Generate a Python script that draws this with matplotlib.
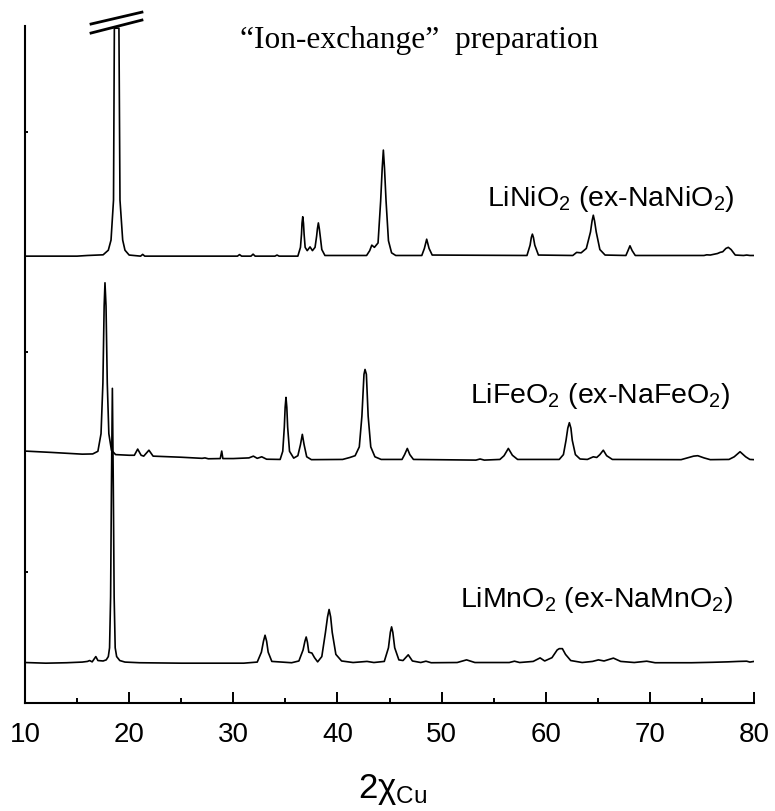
import numpy as np
import matplotlib.pyplot as plt

plt.rcParams['font.family'] = ['Liberation Sans', 'DejaVu Sans']
plt.rcParams['mathtext.fontset'] = 'custom'
plt.rcParams['mathtext.rm'] = 'Liberation Sans'
plt.rcParams['mathtext.it'] = 'Liberation Sans'
plt.rcParams['mathtext.bf'] = 'Liberation Sans:bold'

# XRD traces: 2theta and intensity (a.u.) above each baseline
ni_tt  = [10.0, 15.0, 16.0, 17.5, 18.0, 18.26, 18.5, 18.58, 19.02, 19.12, 19.38, 19.6, 20.0,
          21.1, 21.3, 21.5, 30.4, 30.6, 30.8, 31.7, 31.9, 32.1, 34.0, 34.2, 34.4,
          36.2, 36.45, 36.55, 36.6, 36.67, 36.74, 36.8, 36.9, 37.1, 37.37, 37.6, 37.85, 38.0, 38.08,
          38.17, 38.26, 38.35, 38.5, 38.8,
          42.8, 43.1, 43.3, 43.55, 43.9, 44.15, 44.3, 44.41, 44.52, 44.67, 44.9, 45.2, 45.6,
          48.1, 48.35, 48.57, 48.8, 49.1, 58.2, 58.5, 58.62, 58.72, 58.82, 58.95, 59.3,
          62.6, 62.97, 63.4, 63.9, 64.3, 64.45, 64.57, 64.69, 64.85, 65.2, 65.7,
          67.7, 67.9, 68.09, 68.3, 68.6, 75.2, 75.46, 75.8, 76.5, 76.74, 77.0, 77.3, 77.53, 77.8, 78.2,
          79.0, 79.3, 79.6, 80.0]
ni_int = [0, 0, 3, 6, 27, 73, 255, 1036, 1036, 255, 73, 27, 5,
          0, 8, 0, 0, 7, 0, 0, 9, 0, 0, 5, 0,
          0, 40, 100, 150, 179, 150, 100, 40, 25, 42, 25, 40, 90, 125,
          151, 125, 90, 30, 3,
          3, 25, 50, 40, 60, 250, 400, 482, 400, 250, 70, 15, 3,
          3, 35, 77, 35, 5, 3, 50, 85, 100, 85, 50, 5,
          3, 17, 15, 35, 110, 160, 186, 160, 110, 30, 5,
          3, 25, 47, 25, 3, 3, 6, 5, 12, 17, 20, 35, 40, 30, 5,
          3, 5, 3, 3]

fe_tt  = [10.0, 12.5, 15.5, 16.5, 17.0, 17.3, 17.48, 17.6, 17.68, 17.78, 17.9, 18.05, 18.3, 18.7,
          20.0, 20.5, 20.82, 21.15, 21.4, 21.9, 22.3, 25.0, 27.0, 27.28, 27.6, 28.75, 28.89, 29.0,
          30.0, 31.5, 31.93, 32.3, 32.73, 33.2, 34.5, 34.75, 34.9, 34.98, 35.06, 35.14, 35.22, 35.4, 35.8,
          36.2, 36.45, 36.63, 36.8, 37.05, 37.5, 40.5, 41.2, 41.7, 42.1, 42.35, 42.55, 42.65, 42.78,
          42.95, 43.2, 43.6, 44.2, 46.2, 46.45, 46.71, 46.95, 47.3, 53.3, 53.7, 54.1,
          55.6, 56.0, 56.41, 56.8, 57.3, 61.3, 61.7, 61.95, 62.12, 62.27, 62.42, 62.55, 62.85, 63.3,
          64.0, 64.57, 64.9, 65.2, 65.53, 65.85, 66.4, 73.0, 73.6, 74.2, 74.6, 75.2, 75.8,
          77.6, 78.1, 78.66, 79.2, 79.6, 80.0]
fe_int = [41, 35, 27, 28, 40, 120, 350, 700, 806, 700, 350, 120, 45, 25,
          22, 22, 50, 22, 18, 45, 18, 13, 8, 10, 6, 7, 41, 7,
          7, 10, 18, 8, 15, 4, 3, 40, 150, 240, 285, 240, 150, 40, 9,
          20, 70, 117, 70, 15, 2, 3, 12, 20, 60, 200, 390, 412, 390,
          200, 60, 15, 3, 3, 25, 53, 25, 3, 0, 5, 0,
          3, 20, 53, 22, 3, 3, 25, 90, 145, 170, 145, 90, 25, 5,
          3, 15, 12, 25, 45, 20, 3, 2, 10, 18, 20, 10, 2,
          3, 15, 38, 15, 3, 2]

mn_tt  = [10.0, 12.0, 14.0, 15.5, 16.0, 16.2, 16.45, 16.8, 17.0, 17.5, 17.8, 18.0, 18.12, 18.22,
          18.3, 18.39, 18.48, 18.56, 18.66, 18.8, 19.1, 19.6, 21.0, 25.0, 31.0, 32.3, 32.7, 32.9, 33.05,
          33.2, 33.35, 33.7, 35.6, 36.3, 36.7, 36.88, 37.0, 37.12, 37.25, 37.55, 37.8, 38.1, 38.5, 38.85,
          39.05, 39.2, 39.35, 39.5,
          39.85, 40.4, 41.5, 42.84, 43.5, 44.5, 44.9, 45.08, 45.2, 45.32, 45.5, 45.9, 46.3, 46.8, 47.2, 48.0,
          48.5, 49.0, 51.5, 52.4, 53.2, 56.5, 57.0, 57.5, 58.8, 59.46, 59.9, 60.6, 61.1, 61.3,
          61.6, 61.9, 62.4, 63.5, 64.5, 65.06, 65.6, 66.5, 67.2, 68.5, 69.7, 70.5, 72.0, 74.0,
          76.0, 77.5, 78.5, 79.3, 79.6, 80.0]
mn_int = [3, 0, 2, 5, 8, 12, 6, 30, 12, 10, 15, 30, 70, 300,
          800, 1249, 800, 300, 70, 30, 12, 5, 2, 0, 0, 5, 50, 100, 127,
          100, 50, 8, 2, 10, 60, 100, 119, 95, 50, 46, 25, 6, 30, 140,
          210, 244, 210, 140,
          40, 10, 3, 8, 3, 8, 70, 140, 165, 140, 70, 15, 12, 38, 10, 3,
          9, 2, 3, 15, 3, 3, 9, 3, 8, 24, 10, 25, 60, 66,
          66, 40, 12, 3, 8, 15, 10, 23, 8, 3, 9, 2, 2, 2,
          4, 6, 8, 9, 5, 8]

labels = ['LiNiO$_2$ (ex-NaNiO$_2$)', 'LiFeO$_2$ (ex-NaFeO$_2$)', 'LiMnO$_2$ (ex-NaMnO$_2$)']

W, H = 775, 811
fig = plt.figure(figsize=(W/100, H/100), dpi=100)
ax = fig.add_axes([25/W, 1-703/H, (754-25)/W, (703-26)/H])

ax.plot(ni_tt, np.array(ni_int)+1436, '-k', lw=1.2)
ax.plot(fe_tt, np.array(fe_int)+509, '-k', lw=1.2)
ax.plot(mn_tt, np.array(mn_int)-414, '-k', lw=1.2)

# axis-break marks on the clipped peak
ax.plot([16.34, 21.23], [2491, 2545], '-k', lw=2, clip_on=False)
ax.plot([16.34, 21.23], [2450, 2509], '-k', lw=2, clip_on=False)

ax.set_xlim(10, 80)
ax.set_ylim(-595, 2482)
ax.set_xticks(range(10, 81, 10))
ax.set_xticks(range(15, 80, 10), minor=True)
ax.set_yticks([0, 1000, 2000])
ax.set_yticklabels([])
ax.spines['top'].set_visible(False)
ax.spines['right'].set_visible(False)
ax.spines['left'].set_linewidth(1.5)
ax.spines['bottom'].set_linewidth(1.5)
ax.tick_params(axis='x', which='major', direction='in', length=7.7, width=1.4, labelsize=20, pad=14)
ax.tick_params(axis='x', which='minor', direction='in', length=3.8, width=1.4)
ax.tick_params(axis='y', which='major', direction='in', length=2.5, width=1.4)

fig.text(240/W, 1-48/H, '\u201cIon-exchange\u201d  preparation', family='Liberation Serif',
         fontsize=22.6, va='baseline')
fig.text(487/W, 1-206/H, labels[0], fontsize=20.5, va='baseline')
fig.text(470/W, 1-403/H, labels[1], fontsize=20.5, va='baseline')
fig.text(460/W, 1-607/H, labels[2], fontsize=20.5, va='baseline')
fig.text(358/W, 1-798/H, r'2$\chi_{\mathrm{Cu}}$', fontsize=25, va='baseline')

plt.savefig('out.png', dpi=100)
